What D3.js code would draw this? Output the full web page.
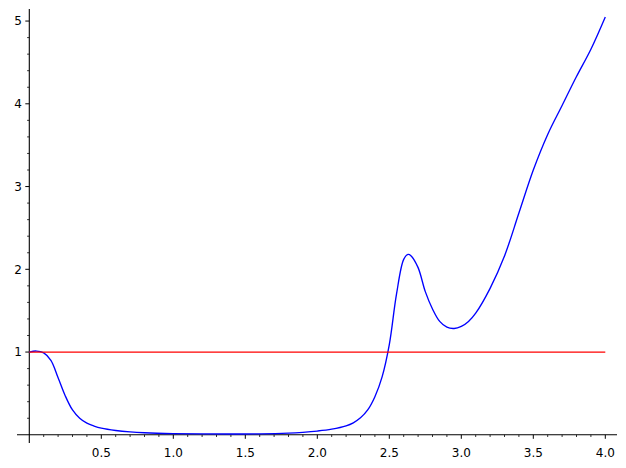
<!DOCTYPE html>
<html>
<head>
<meta charset="utf-8">
<script src="https://cdn.jsdelivr.net/npm/d3@7"></script>
<style>
  html, body { margin: 0; padding: 0; background: #fff; }
  svg { display: block; }
  text { font-family: "DejaVu Sans", sans-serif; font-size: 12px; fill: #000; }
</style>
</head>
<body>
<svg id="chart" width="626" height="468"></svg>
<script>
// Data
const xValues = [0, 0.05, 0.1, 0.15, 0.2, 0.25, 0.3, 0.35, 0.4, 0.45, 0.5, 0.6, 0.7, 0.8, 1.0, 1.2, 1.4, 1.6, 1.8, 1.9, 2.0, 2.1, 2.2, 2.25, 2.3, 2.35, 2.4, 2.45, 2.5, 2.55, 2.6, 2.63, 2.65, 2.7, 2.75, 2.8, 2.85, 2.9, 2.95, 3.0, 3.05, 3.1, 3.2, 3.3, 3.4, 3.5, 3.6, 3.7, 3.8, 3.9, 4.0];
const blueValues = [1.0, 1.012, 0.99, 0.9, 0.69, 0.47, 0.30, 0.2, 0.14, 0.105, 0.08, 0.052, 0.035, 0.025, 0.015, 0.011, 0.01, 0.011, 0.02, 0.03, 0.045, 0.068, 0.108, 0.145, 0.205, 0.30, 0.46, 0.70, 1.09, 1.70, 2.12, 2.18, 2.165, 2.02, 1.73, 1.52, 1.37, 1.30, 1.285, 1.31, 1.37, 1.47, 1.77, 2.16, 2.68, 3.2, 3.63, 3.98, 4.33, 4.66, 5.05];
const redX = [0, 4];
const redValues = [1, 1];
const xMajorTicks = [0.5, 1.0, 1.5, 2.0, 2.5, 3.0, 3.5, 4.0];
const xTickLabels = ["0.5", "1.0", "1.5", "2.0", "2.5", "3.0", "3.5", "4.0"];
const yMajorTicks = [1, 2, 3, 4, 5];
const yTickLabels = ["1", "2", "3", "4", "5"];
const xMinorTicks = d3.range(1, 41).map(i => i / 10).filter(v => Math.abs(v * 2 - Math.round(v * 2)) > 1e-9);
const yMinorTicks = d3.range(1, 26).map(i => i / 5).filter(v => Math.abs(v - Math.round(v)) > 1e-9);

const svg = d3.select("#chart");

// Scales: x 0..4 -> 29.3..605.3 ; y 0..5 -> 434.8..21.05
const x = d3.scaleLinear().domain([0, 4]).range([29.3, 605.3]);
const y = d3.scaleLinear().domain([0, 5]).range([434.8, 21.05]);
const xLo = x.invert(17), xHi = x.invert(617);
const yLo = y.invert(443), yHi = y.invert(9);

// Axis spines through zero
svg.append("line")
  .attr("x1", x(xLo)).attr("x2", x(xHi))
  .attr("y1", y(0)).attr("y2", y(0))
  .attr("stroke", "#000").attr("stroke-width", 1.1);
svg.append("line")
  .attr("x1", x(0)).attr("x2", x(0))
  .attr("y1", y(yLo)).attr("y2", y(yHi))
  .attr("stroke", "#000").attr("stroke-width", 1.1);

// X ticks
const gx = svg.append("g");
gx.selectAll("line.minor").data(xMinorTicks).enter().append("line")
  .attr("x1", d => x(d)).attr("x2", d => x(d))
  .attr("y1", y(0)).attr("y2", y(0) + 2.2)
  .attr("stroke", "#000").attr("stroke-width", 0.8);
gx.selectAll("line.major").data(xMajorTicks).enter().append("line")
  .attr("x1", d => x(d)).attr("x2", d => x(d))
  .attr("y1", y(0)).attr("y2", y(0) + 4)
  .attr("stroke", "#000").attr("stroke-width", 1);
gx.selectAll("text").data(xMajorTicks).enter().append("text")
  .attr("x", d => x(d)).attr("y", y(0) + 21.8)
  .attr("text-anchor", "middle")
  .text((d, i) => xTickLabels[i]);

// Y ticks
const gy = svg.append("g");
gy.selectAll("line.minor").data(yMinorTicks).enter().append("line")
  .attr("x1", x(0) - 2.2).attr("x2", x(0))
  .attr("y1", d => y(d)).attr("y2", d => y(d))
  .attr("stroke", "#000").attr("stroke-width", 0.8);
gy.selectAll("line.major").data(yMajorTicks).enter().append("line")
  .attr("x1", x(0) - 4).attr("x2", x(0))
  .attr("y1", d => y(d)).attr("y2", d => y(d))
  .attr("stroke", "#000").attr("stroke-width", 1);
gy.selectAll("text").data(yMajorTicks).enter().append("text")
  .attr("x", x(0) - 7.5).attr("y", d => y(d))
  .attr("dy", "0.36em")
  .attr("text-anchor", "end")
  .text((d, i) => yTickLabels[i]);

// Blue curve
const blue = xValues.map((v, i) => [v, blueValues[i]]);
const line = d3.line().x(d => x(d[0])).y(d => y(d[1])).curve(d3.curveCatmullRom.alpha(0.5));
svg.append("path").datum(blue)
  .attr("d", line)
  .attr("fill", "none").attr("stroke", "#0000ff").attr("stroke-width", 1.35);

// Red line
const red = redX.map((v, i) => [v, redValues[i]]);
svg.append("path").datum(red)
  .attr("d", d3.line().x(d => x(d[0])).y(d => y(d[1])))
  .attr("fill", "none").attr("stroke", "#ff0000").attr("stroke-width", 1.35);
</script>
</body>
</html>
